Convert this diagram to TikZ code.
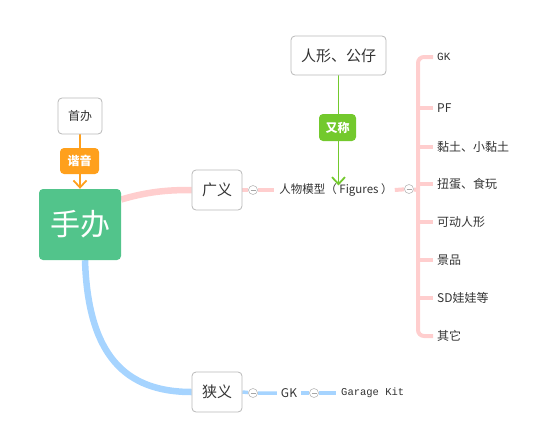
\documentclass[tikz,border=0pt]{standalone}
\usepackage{fontspec}
\setmainfont{Noto Sans CJK SC}
\newfontfamily\monof{Liberation Mono}
\usetikzlibrary{arrows.meta}
\pgfdeclarelayer{bg}
\pgfsetlayers{bg,main}
\definecolor{txt}{RGB}{51,51,51}
\definecolor{maingreen}{RGB}{82,196,139}
\definecolor{orangelab}{RGB}{255,160,28}
\definecolor{greenlab}{RGB}{115,201,45}
\definecolor{pinkline}{RGB}{255,206,206}
\definecolor{blueline}{RGB}{166,212,255}
\definecolor{boxborder}{RGB}{185,185,185}
\begin{document}
\begin{tikzpicture}[x=1pt,y=-1pt,
  every node/.style={text=txt},
  topicbox/.style={draw=boxborder,line width=0.8pt,fill=white,rounded corners=4pt,inner sep=0pt,font=\fontsize{15}{15}\selectfont},
  labelbox/.style={rounded corners=4pt,inner sep=0pt,text=white,font=\fontsize{12}{12}\selectfont\bfseries},
  leaf/.style={anchor=west,inner sep=0pt,font=\fontsize{12}{12}\selectfont},
  collapse/.style={circle,draw=gray!55,line width=0.6pt,fill=white,minimum size=9pt,inner sep=0pt,
    path picture={\draw[gray!70,line width=0.6pt] ([xshift=-2.5pt]path picture bounding box.center) -- ([xshift=2.5pt]path picture bounding box.center);}},
  pinkmain/.style={draw=pinkline,line width=6.5pt},
  pinksub/.style={draw=pinkline,line width=4pt},
  bluemain/.style={draw=blueline,line width=6.5pt},
  bluesub/.style={draw=blueline,line width=3.5pt},
  relarrow/.style={line width=1.8pt,-{Straight Barb[length=7pt,width=13pt,line width=1.8pt]}},
]
\useasboundingbox (0,0) rectangle (549,426);

% main nodes
\node[fill=maingreen,rounded corners=4pt,minimum width=82pt,minimum height=71pt,inner sep=0pt,text=white,font=\fontsize{30}{30}\selectfont] (main) at (80,224.5) {手办};
\node[topicbox,minimum width=44pt,minimum height=36pt,font=\fontsize{12}{12}\selectfont] (shouban) at (80,116) {首办};
\node[labelbox,fill=orangelab,minimum width=39pt,minimum height=26pt] (xieyin) at (79.5,161) {谐音};
\node[topicbox,minimum width=50pt,minimum height=40pt] (guangyi) at (217,190) {广义};
\node[topicbox,minimum width=50pt,minimum height=40pt] (xiayi) at (217,392) {狭义};
\node[inner sep=0pt,font=\fontsize{11.5}{11.5}\selectfont] (renwu) at (336,190) {人物模型（ Figures ）};
\node[topicbox,minimum width=95pt,minimum height=39pt] (renxing) at (338.5,55.5) {人形、公仔};
\node[labelbox,fill=greenlab,minimum width=37pt,minimum height=27pt] (youcheng) at (337.5,127.5) {又称};
\node[collapse] (c1) at (253,190) {};
\node[collapse] (c4) at (409,189) {};
\node[collapse] (c2) at (253,393) {};
\node[collapse] (c3) at (314,393) {};
\node[inner sep=0pt,font=\fontsize{12}{12}\selectfont] (gk) at (289,393) {GK};
\node[leaf,font=\monof\fontsize{10.5}{10.5}\selectfont] (garage) at (341,393) {Garage Kit};

% bracket items
\node[leaf,font=\monof\fontsize{11}{11}\selectfont] (i1) at (437,57) {GK};
\node[leaf] (i2) at (437,108) {PF};
\node[leaf] (i3) at (437,147) {黏土、小黏土};
\node[leaf] (i4) at (437,184) {扭蛋、食玩};
\node[leaf] (i5) at (437,222) {可动人形};
\node[leaf] (i6) at (437,260) {景品};
\node[leaf] (i7) at (437,298) {SD娃娃等};
\node[leaf] (i8) at (437,336) {其它};
\coordinate (bx) at (418,190);

\begin{pgfonlayer}{bg}
  % main branches
  \path[pinkmain] ([yshift=25pt]main.east) .. controls (150,191) and (170,190) .. (guangyi.west);
  \path[bluemain] ([xshift=5pt]main.south) .. controls (88,355) and (125,392) .. (xiayi.west);
  % pink sub
  \path[pinksub] (guangyi.east) -- (c1) -- ([xshift=-5pt]renwu.west);
  \path[pinksub] ([xshift=2pt]renwu.east) -- (c4) -- (bx);
  \path[pinksub,rounded corners=6pt] ([xshift=-4pt]i1.west) -| (bx |- i4.west) |- ([xshift=-4pt]i8.west);
  \foreach \i in {i2,i3,i4,i5,i6,i7}{
    \path[pinksub] (bx |- \i.west) -- ([xshift=-4pt]\i.west);
  }
  % blue sub
  \path[bluesub] (xiayi.east) -- (c2) -- ([xshift=-4pt]gk.west);
  \path[bluesub] ([xshift=4pt]gk.east) -- (c3) -- ([xshift=-5pt]garage.west);
  % relation arrows
  \draw[orangelab,relarrow] (shouban.south) -- (main.north);
  \draw[greenlab,relarrow] (renxing.south) -- ([yshift=-2pt]renxing.south |- renwu.north);
\end{pgfonlayer}
\end{tikzpicture}
\end{document}
